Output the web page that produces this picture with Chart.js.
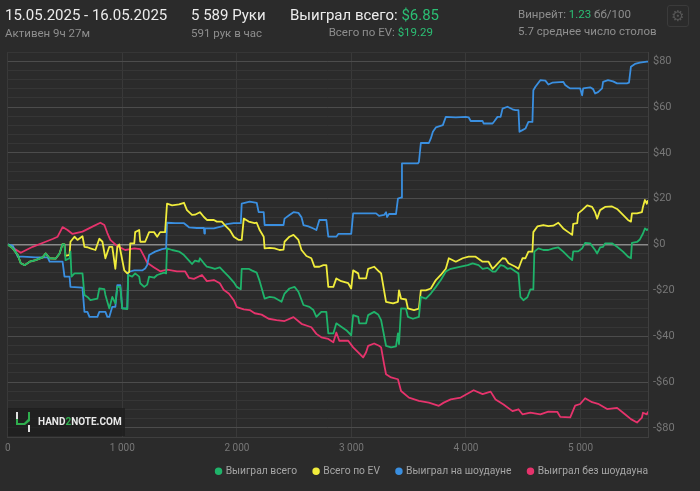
<!DOCTYPE html>
<html>
<head>
<meta charset="utf-8">
<script src="https://cdn.jsdelivr.net/npm/chart.js@4.4.1/dist/chart.umd.min.js"></script>
<style>
  html, body { margin: 0; padding: 0; background: #2b2b2b; }
  body { width: 700px; height: 491px; position: relative; overflow: hidden; font-family: Roboto, "Noto Sans", sans-serif; }
  .t { position: absolute; white-space: nowrap; line-height: 1; }
  .big { font-size: 15px; color: #ececec; }
  .small { font-size: 11.5px; color: #8e8e8e; }
  .g { color: #2bbf74; }
  #gear { position: absolute; left: 667px; top: 5px; width: 20px; height: 20px; border: 1px solid #3b3b3b; border-radius: 3px; color: #555; font: 15px "DejaVu Sans"; text-align: center; line-height: 20px; }
  #logo { position: absolute; left: 8px; top: 408px; width: 117px; height: 28px; background: rgba(30,30,30,0.85); }
  #logo svg { position: absolute; left: 7px; top: 4px; }
  #logo .name { position: absolute; left: 30px; top: 9px; font: bold 10px Roboto; color: #e8e8e8; line-height: 10px; }
  #wrap { position: absolute; left: 0; top: 0; width: 700px; height: 491px; }
</style>
</head>
<body>
<div id="wrap"><canvas id="chart" width="700" height="491"></canvas></div>
<div class="t big" style="left:5px;top:8px">15.05.2025 - 16.05.2025</div>
<div class="t small" style="left:5px;top:28px">Активен 9ч 27м</div>
<div class="t big" style="left:191px;top:8px">5 589 Руки</div>
<div class="t small" style="left:191px;top:28px">591 рук в час</div>
<div class="t big" style="left:290px;top:8px">Выиграл всего: <span class="g">$6.85</span></div>
<div class="t small" style="right:267px;top:27px">Всего по EV: <span class="g">$19.29</span></div>
<div class="t small" style="left:518px;top:9px">Винрейт: <span class="g">1.23</span> бб/100</div>
<div class="t small" style="left:518px;top:26px">5.7 среднее число столов</div>
<div id="gear">⚙</div>
<div id="logo">
  <svg width="16" height="20" viewBox="0 0 16 20">
    <rect x="1" y="0" width="2" height="7" fill="#e0e0e0"/>
    <rect x="1" y="7" width="2" height="6" fill="#2fae4e"/>
    <polygon points="1,11 9,11 13,7 15,7 15,9 10,13 1,13" fill="#2fae4e"/>
    <rect x="13" y="0" width="2" height="9" fill="#2fae4e"/>
    <rect x="13" y="13" width="2" height="7" fill="#e0e0e0"/>
  </svg>
  <span class="name">HAND<span style="color:#2fae4e">2</span>NOTE.COM</span>
</div>
<script>
const seriesNames = ['Выиграл всего', 'Всего по EV', 'Выиграл на шоудауне', 'Выиграл без шоудауна'];
const seriesColors = ['#1fb36a', '#f0ec3c', '#3a8fe0', '#e6336c'];

const wonHands = [0,43,87,113,148,191,243,304,330,365,417,452,478,495,504,539,547,556,582,652,669,695,721,782,799,843,852,886,912,939,956,982,999,1043,1051,1086,1112,1147,1156,1191,1217,1234,1277,1304,1364,1382,1390,1434,1495,1538,1582,1608,1634,1668,1677,1712,1738,1781,1808,1851,1886,1929,1973,1999,2034,2042,2103,2129,2173,2199,2242,2286,2329,2390,2416,2459,2503,2537,2581,2633,2668,2694,2737,2781,2798,2842,2868,2911,2955,2998,3015,3059,3068,3128,3146,3198,3233,3259,3302,3346,3389,3406,3415,3433,3476,3493,3537,3589,3606,3650,3693,3737,3780,3824,3867,3954,4015,4058,4110,4145,4189,4232,4258,4302,4328,4362,4388,4432,4458,4475,4501,4536,4562,4588,4597,4632,4675,4719,4762,4806,4849,4893,4927,4936,4980,5014,5040,5084,5127,5145,5171,5197,5214,5275,5319,5371,5414,5440,5449,5493,5518,5545,5562,5579,5589];
const wonValues = [0,-1.7,-4.6,-8.2,-9,-7.5,-6.8,-5.6,-3.9,-6,-6.2,-3.9,0.2,0,-6.8,-6,-3.1,-14,-12.6,-12.6,-22,-22.9,-24.3,-23.6,-19.2,-19.5,-22,-27.9,-22.9,-25.7,-18.5,-18.5,-27.9,-28.2,-13.3,-14,-12.6,-14,-16.9,-18.5,-17.5,-14,-14.5,-13.3,-12.3,-12.6,-1.7,-2.4,-3.1,-4.6,-7,-8.5,-7,-7.5,-6,-8.2,-9.7,-10.2,-10.6,-10,-11.8,-14,-16.5,-18.5,-19.5,-10.6,-10.6,-11.3,-12.3,-16,-23.6,-22.9,-23.2,-25,-21.4,-19.2,-18.5,-20.6,-26.4,-27.2,-28.6,-31.6,-29.4,-29.4,-38.8,-38.8,-34.4,-35.9,-37.4,-39.6,-30.8,-31.6,-34.4,-34.4,-30.8,-29.4,-30.5,-33,-44.2,-44.9,-44.5,-38.8,-43.5,-27.9,-28,-31.6,-32.4,-31.6,-22.9,-23.6,-21.4,-18.5,-15.5,-11.8,-10.6,-9.7,-9,-8.2,-9,-10.6,-10.2,-11.8,-11.8,-9,-9.3,-10.6,-10.3,-11.8,-12.6,-22.9,-24.3,-23,-19.6,-19.6,-3.1,-1.7,-2.4,-2.4,-1.7,-1.3,-3.1,-5.3,-6.8,-3,-3,-1.7,0.7,0.5,-2.4,-3.9,-1.3,-1,0.5,0.5,-1,-3.1,-5.3,-6,0.7,1.1,2.2,4.8,7,6.3,6.85];

const evHands = [0,43,87,113,148,191,243,304,330,365,417,452,478,495,504,539,547,582,608,652,669,695,721,765,799,826,852,886,912,939,956,973,982,1017,1043,1060,1069,1104,1112,1147,1156,1199,1234,1277,1304,1330,1373,1390,1434,1495,1538,1564,1608,1634,1677,1712,1738,1799,1825,1868,1894,1938,1973,2016,2042,2060,2103,2155,2173,2199,2234,2242,2286,2329,2372,2407,2416,2459,2494,2537,2564,2607,2650,2677,2720,2755,2781,2798,2842,2868,2911,2972,2998,3015,3059,3068,3128,3146,3198,3241,3259,3302,3363,3406,3415,3433,3476,3493,3546,3589,3606,3650,3693,3737,3780,3824,3850,3911,3971,4023,4084,4145,4197,4232,4258,4319,4345,4371,4432,4458,4493,4519,4545,4580,4588,4623,4675,4719,4762,4806,4849,4893,4927,4936,4971,4980,5014,5058,5101,5127,5145,5171,5214,5275,5319,5371,5414,5440,5449,5493,5536,5545,5562,5579,5589];
const evValues = [0,-1.7,-4.6,-8.2,-9,-7.5,-6.8,-5.6,-3.9,-6,-6.2,-3.9,0.2,0,-5,-4.5,1.2,3.4,2,3.6,-1,-1.2,-1.7,-2.4,2.5,1.2,-6,-1,-1,-10.6,-1,0,-2.4,-11.3,-12.6,-12,0.5,0.5,5.4,6.3,1.2,1.2,5.4,5.4,3.4,5.4,5.4,17.8,17.1,17.5,18.2,15,12.9,13,14.1,12,10.7,10.7,10,10,8.5,6.3,3.4,2,2,11.3,10,9.3,9.5,6.3,3.4,-1.7,-1.5,-1.7,-2.4,-2.2,1.2,3.4,4.2,2,-2.4,-5,-6,-9.7,-9.7,-9,-9,-18.5,-18.5,-14.8,-16,-16.9,-19.2,-11.3,-12.6,-14.8,-14.8,-10.6,-9.7,-11.8,-12.6,-25,-25.7,-25,-20,-23.6,-24,-27.9,-28.6,-28,-20,-20,-19.2,-15.5,-13.3,-10.6,-6,-7.5,-6,-5.3,-5.3,-7.5,-7.5,-10.6,-9.3,-6,-6.2,-8.2,-9.7,-10.6,-6,-6,-3.1,-3.1,5.4,7.9,8.5,8,8.2,9.5,7,5.4,4.2,9,9.3,13.6,15,17.1,16.4,14.1,11.3,15,16.4,16.6,15.5,12.9,10.7,10,13.6,13.6,14.1,16.4,19.4,17.8,19.29];

const sdHands = [0,43,87,130,243,348,365,478,495,539,547,652,669,695,713,782,799,852,869,886,912,939,956,982,999,1043,1051,1104,1173,1199,1217,1234,1286,1347,1382,1390,1460,1538,1582,1651,1712,1716,1721,1799,1868,1912,1973,2034,2042,2112,2173,2190,2234,2242,2407,2416,2459,2494,2537,2564,2581,2624,2668,2694,2720,2781,2798,2868,2885,2998,3015,3215,3241,3285,3302,3311,3328,3389,3406,3433,3441,3580,3589,3606,3676,3693,3711,3737,3798,3824,3911,3997,4023,4041,4145,4154,4232,4249,4275,4302,4319,4362,4406,4432,4458,4467,4493,4519,4545,4580,4588,4606,4649,4693,4719,4753,4849,4866,4893,4910,4997,5014,5023,5084,5110,5127,5153,5188,5197,5240,5284,5319,5405,5423,5440,5475,5518,5579,5589];
const sdValues = [0,-0.5,-5.3,-5.3,-5.6,-5.6,-7.5,-7.5,-14,-14,-18.5,-18.8,-29.4,-29.4,-31.6,-31.6,-29.4,-29.4,-31.6,-31.6,-27.2,-27.2,-17.7,-17.7,-27.9,-27.9,-12,-11.3,-11.3,-10.5,-9,-4.6,-3.1,-2,-1.7,9.5,9.3,9.3,7.5,7.2,7.2,4.8,7,7,7.9,8.9,9.3,9.3,17.8,18.7,18.2,14.1,14.1,8.5,8.5,11.3,12.9,14.1,13.8,11.9,8.5,7.9,7,6.3,10.7,10.7,3.4,3.4,4.6,4.6,13.6,13.6,12.5,12.9,14.1,12,13.3,13.3,20,20.5,35.4,35.4,36,44.3,44.3,46.3,49.2,51.1,52.1,55.7,55.5,55.7,55.5,53.9,53.9,52.8,52.8,53.9,55.7,55.7,59.3,60.1,59,58.6,58.6,49.2,49.9,50.6,53.5,53.5,67.3,68.8,71.7,71.5,69.8,70.6,71,69.6,68.6,68.1,68.1,65.1,68.1,68.6,67.8,65.9,66.5,68.1,71,71.7,71.2,70.3,70.3,70.6,77.6,78.8,79.4,79.8,79.8];

const nsdHands = [0,113,217,330,391,435,478,521,565,652,739,808,843,869,895,956,1025,1069,1104,1156,1191,1217,1277,1330,1390,1477,1547,1582,1625,1695,1738,1799,1851,1886,1929,1973,1999,2060,2112,2155,2216,2277,2346,2416,2494,2564,2650,2694,2737,2798,2842,2868,2894,2972,3015,3059,3102,3128,3146,3198,3241,3259,3285,3302,3346,3406,3433,3502,3589,3676,3763,3806,3867,3954,4067,4145,4215,4258,4328,4406,4458,4493,4562,4649,4719,4797,4823,4910,4953,4997,5040,5101,5153,5232,5319,5388,5440,5493,5536,5545,5579,5589];
const nsdValues = [0,-3.6,-1,1.2,2.4,3.4,7.6,6.3,4.6,5.6,7.8,9.5,8.5,5,2,-0.7,-2.4,-2,-1.7,-2,-5.3,-8,-10,-11.7,-11,-11.7,-11.7,-14.6,-15,-13.3,-16,-15.5,-16.9,-19.9,-21.4,-24.3,-27.3,-28.3,-28.6,-30,-30.6,-32.4,-33,-33.4,-31.7,-34.6,-36.1,-39,-40.5,-41.2,-42.7,-38.4,-42,-42,-44.9,-47.1,-49.3,-47,-44.2,-43.2,-44.2,-44.9,-52.2,-56.6,-58,-58.8,-63.9,-66.8,-68.2,-69,-70.4,-69,-67.6,-66.8,-63.6,-65.3,-64.2,-67.6,-69.8,-72.7,-71.9,-74.1,-73.4,-74.1,-72.9,-73,-75.2,-75.4,-70.3,-69.6,-67.1,-68.8,-69.5,-71.8,-71.3,-74.1,-76.2,-77.7,-75.5,-73.4,-74.1,-72.9];

const totalHands = 5589;
const xTicks = [0, 1000, 2000, 3000, 4000, 5000];
const yMin = -84, yMax = 84, yStep = 4, yLabelStep = 20;

const allHands = [wonHands, evHands, sdHands, nsdHands];
const allValues = [wonValues, evValues, sdValues, nsdValues];

const fmtHands = v => String(v).replace(/\B(?=(\d{3})+(?!\d))/g, ' ');
const fmtMoney = v => (v < 0 ? '-$' : '$') + Math.abs(v);

// legend sits flush with the plot's right edge and a bit higher
const legendShift = {
  id: 'legendShift',
  afterLayout(chart) {
    const l = chart.legend;
    const pad = l.options.labels.padding;
    l.left += pad;
    l.right += pad;
    l.top -= 4;
    l.bottom -= 4;
  }
};

new Chart(document.querySelector('#chart'), {
  type: 'line',
  data: {
    datasets: seriesNames.map((name, i) => ({
      label: name,
      data: allHands[i].map((h, j) => ({ x: h, y: allValues[i][j] })),
      borderColor: seriesColors[i],
      backgroundColor: seriesColors[i],
      borderWidth: 1.8,
      pointRadius: 0,
      tension: 0,
      borderJoinStyle: 'round'
    }))
  },
  plugins: [legendShift],
  options: {
    responsive: false,
    animation: false,
    layout: { padding: { top: 52, left: 5, right: 0, bottom: 8 } },
    scales: {
      x: {
        type: 'linear',
        min: 0,
        max: totalHands,
        grid: { color: '#393939', drawTicks: false },
        border: { color: '#3f3f3f' },
        afterBuildTicks: s => { s.ticks = xTicks.map(v => ({ value: v })); },
        ticks: {
          color: '#777',
          font: { family: 'Roboto', size: 10 },
          padding: 5,
          maxRotation: 0,
          autoSkip: false,
          callback: v => fmtHands(v)
        },
        afterFit: s => { s.height = 16; }
      },
      y: {
        position: 'right',
        min: yMin,
        max: yMax,
        grid: {
          drawTicks: false,
          color: c => {
            const v = Math.round(c.tick.value);
            if (v === 0) return '#8a8a8a';
            return v % yLabelStep === 0 ? '#4c4c4c' : '#363636';
          },
          lineWidth: c => Math.round(c.tick.value) === 0 ? 1.5 : 1
        },
        border: { color: '#3f3f3f' },
        ticks: {
          stepSize: yStep,
          autoSkip: false,
          color: '#777',
          font: { family: 'Roboto', size: 11 },
          padding: 5,
          callback: v => {
            const r = Math.round(v);
            return r % yLabelStep === 0 ? fmtMoney(r) : '';
          }
        },
        afterFit: s => { s.width = 52; }
      }
    },
    plugins: {
      tooltip: { enabled: false },
      legend: {
        position: 'bottom',
        align: 'end',
        fullSize: false,
        maxHeight: 30,
        labels: {
          usePointStyle: true,
          pointStyle: 'circle',
          boxWidth: 4,
          boxHeight: 4,
          padding: 17,
          color: '#a5a5a5',
          font: { family: 'Roboto', size: 10.3 }
        }
      }
    }
  }
});
</script>
</body>
</html>
